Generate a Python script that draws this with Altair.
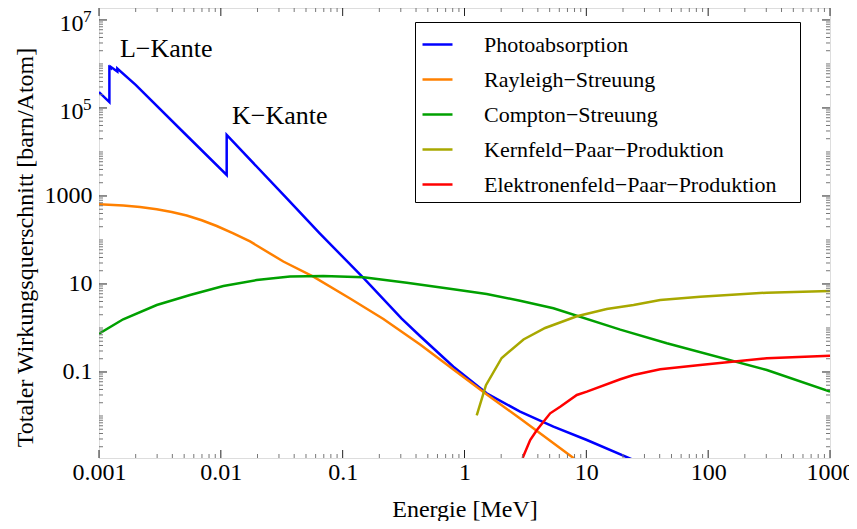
import altair as alt
import pandas as pd

FONT = "Liberation Serif"

series_names = ["Photoabsorption", "Rayleigh\u2212Streuung", "Compton\u2212Streuung",
                "Kernfeld\u2212Paar\u2212Produktion", "Elektronenfeld\u2212Paar\u2212Produktion"]
series_colors = ["#0000ff", "#ff8000", "#00a000", "#a8a800", "#ff0000"]

photo_E = [0.001, 0.001217, 0.001217, 0.001248, 0.001248, 0.001414, 0.001414, 0.002, 0.005,
           0.01117, 0.01117, 0.0348, 0.0651, 0.148, 0.305, 0.431, 0.811, 1.52, 2.86, 5.37, 10.1, 23.6]
photo_S = [2.3e5, 1.36e5, 8.5e5, 8.1e5, 8.6e5, 6.7e5, 7.9e5, 3.35e5, 2.7e4,
           3000, 2.43e4, 881, 140, 13.7, 1.64, 0.658, 0.132, 0.0327, 0.01253, 0.00571, 0.00285, 0.00104]

rayleigh_E = [0.001, 0.001583, 0.002171, 0.002976, 0.003952, 0.005248, 0.006968, 0.009255, 0.01266,
              0.01737, 0.03258, 0.05745, 0.115, 0.2159, 0.4319, 0.8108, 1.524, 2.861, 8.091]
rayleigh_S = [648, 608, 562, 499, 433, 360, 281, 208, 142,
              92.5, 32.4, 14.7, 4.68, 1.60, 0.422, 0.114, 0.0308, 0.00877, 0.00104]

compton_E = [0.001, 0.00158, 0.00298, 0.00559, 0.0105, 0.0197, 0.037, 0.0695, 0.148, 0.336,
             0.811, 1.52, 2.86, 5.37, 19.0, 45.8, 303, 1000]
compton_S = [0.74, 1.58, 3.33, 5.62, 9.0, 12.3, 14.7, 15.2, 14.2, 10.7,
             7.6, 5.93, 4.17, 2.81, 0.92, 0.449, 0.111, 0.0357]

kern_E = [1.26, 1.5, 2.02, 3.05, 4.59, 8.36, 14.7, 24.4, 40.4, 86, 303, 1000]
kern_S = [0.0103, 0.05, 0.208, 0.548, 1.0, 1.85, 2.70, 3.33, 4.33, 5.14, 6.34, 6.93]

elek_E = [3.0, 3.46, 3.93, 4.45, 5.05, 6.1, 8.36, 10.1, 19.0, 24.4, 40.4, 86, 303, 1000]
elek_S = [0.00111, 0.00285, 0.00481, 0.0074, 0.0115, 0.01626, 0.030, 0.0357, 0.0683, 0.0855,
          0.115, 0.144, 0.205, 0.234]

ann_E = [0.001486, 0.01236]
ann_S = [2.19e6, 6.58e4]
ann_text = ["L\u2212Kante", "K\u2212Kante"]

x_tick_values = [0.001, 0.01, 0.1, 1, 10, 100, 1000]
x_tick_labels = ["0.001", "0.01", "0.1", "1", "10", "100", "1000"]
y_tick_values = [1e7, 1e5, 1000, 10, 0.1]
y_tick_labels = ["10", "10", "1000", "10", "0.1"]
y_sup_values = [1e7, 1e5]
y_sup_text = ["7", "5"]

W, H = 731, 450
X_DOMAIN = [0.001, 1000]
Y_DOMAIN = [0.00111, 1.87e7]

x_minor = [k * 10.0 ** n for n in range(-3, 3) for k in range(2, 10)]
y_minor = [k * 10.0 ** n for n in range(-3, 8) for k in range(1, 10)]
y_minor = [v for v in y_minor if Y_DOMAIN[0] <= v <= Y_DOMAIN[1]
           and all(abs(v - m) > m * 1e-6 for m in y_tick_values)]

rows = []
for name, Es, Ss in zip(series_names,
                        [photo_E, rayleigh_E, compton_E, kern_E, elek_E],
                        [photo_S, rayleigh_S, compton_S, kern_S, elek_S]):
    for i, (e, s) in enumerate(zip(Es, Ss)):
        rows.append({"series": name, "E": e, "sigma": s, "idx": i})
df = pd.DataFrame(rows)


def make_expr(vals, labels):
    parts = [f"abs(datum.value - {v}) < {v * 1e-6} ? '{l}'" for v, l in zip(vals, labels)]
    return " : ".join(parts) + " : ''"


xscale = alt.Scale(type="log", domain=X_DOMAIN, nice=False)
yscale = alt.Scale(type="log", domain=Y_DOMAIN, nice=False)

x_axis = alt.Axis(values=x_tick_values, labelExpr=make_expr(x_tick_values, x_tick_labels),
                  ticks=False, tickSize=0, domain=False, grid=False, labelFlush=False,
                  labelOverlap=False, labelFont=FONT, labelFontSize=24, labelColor="black",
                  labelPadding=2, title="Energie [MeV]", titleFont=FONT, titleFontSize=24,
                  titleFontWeight="normal", titleColor="black", titlePadding=13)
y_axis = alt.Axis(values=y_tick_values, labelExpr=make_expr(y_tick_values, y_tick_labels),
                  ticks=False, tickSize=0, domain=False, grid=False, labelFlush=False,
                  labelOverlap=False, labelFont=FONT, labelFontSize=24, labelColor="black",
                  labelPadding={"condition": {"test": "datum.value > 10000", "value": 16}, "value": 7},
                  labelOffset={"condition": {"test": "datum.value > 10000", "value": 4}, "value": 0},
                  title="Totaler Wirkungsquerschnitt [barn/Atom]", titleFont=FONT,
                  titleFontSize=24, titleFontWeight="normal", titleColor="black",
                  titlePadding=7, titleY=239)

lines = alt.Chart(df).mark_line(strokeWidth=2.5, clip=True).encode(
    x=alt.X("E:Q", scale=xscale, axis=x_axis),
    y=alt.Y("sigma:Q", scale=yscale, axis=y_axis),
    color=alt.Color("series:N", scale=alt.Scale(domain=series_names, range=series_colors),
                    legend=alt.Legend(title="M", titleOrient="right", titleOpacity=0,
                                      titleFontSize=12, titlePadding=6,
                                      orient="none", legendX=316, legendY=14,
                                      symbolType="stroke", symbolSize=900, symbolStrokeWidth=2.5,
                                      labelFont=FONT, labelFontSize=22, labelColor="black",
                                      labelOffset=30, rowPadding=7, padding=6, labelLimit=500,
                                      strokeColor="black", fillColor="white")),
    order=alt.Order("idx:Q"),
)

ann = alt.Chart(pd.DataFrame({"E": ann_E, "S": ann_S, "t": ann_text})).mark_text(
    align="left", baseline="middle", font=FONT, fontSize=26, color="black").encode(
    x=alt.X("E:Q", scale=xscale, axis=x_axis),
    y=alt.Y("S:Q", scale=yscale, axis=y_axis),
    text="t:N")

sup = alt.Chart(pd.DataFrame({"v": y_sup_values, "t": y_sup_text})).mark_text(
    align="left", baseline="middle", font=FONT, fontSize=17, color="black", dy=-3).encode(
    x=alt.value(-16),
    y=alt.Y("v:Q", scale=yscale, axis=y_axis),
    text="t:N")


def hticks(vals, length, color, top):
    y0 = 0 if top else H
    y1 = length if top else H - length
    return alt.Chart(pd.DataFrame({"v": vals})).mark_rule(color=color, strokeWidth=1).encode(
        x=alt.X("v:Q", scale=xscale, axis=x_axis), y=alt.value(y0), y2=alt.value(y1))


def vticks(vals, length, color, right):
    x0 = W if right else 0
    x1 = W - length if right else length
    return alt.Chart(pd.DataFrame({"v": vals})).mark_rule(color=color, strokeWidth=1).encode(
        y=alt.Y("v:Q", scale=yscale, axis=y_axis), x=alt.value(x0), x2=alt.value(x1))


MAJ, MIN = "#222222", "#777777"
ticks = [
    hticks(x_tick_values, 8, MAJ, False), hticks(x_minor, 4, MIN, False),
    hticks(x_tick_values, 8, MAJ, True), hticks(x_minor, 4, MIN, True),
    vticks(y_tick_values, 8, MAJ, False), vticks(y_minor, 4, MIN, False),
    vticks(y_tick_values, 8, MAJ, True), vticks(y_minor, 4, MIN, True),
]

chart = alt.layer(lines, *ticks, ann, sup).properties(
    width=W, height=H,
    autosize=alt.AutoSizeParams(type="none"),
    padding={"left": 91, "top": 0, "right": 19, "bottom": 63},
).configure_view(stroke="#222222", strokeWidth=1).configure(font=FONT)

chart.save("out.html", embed_options={"renderer": "svg", "actions": False})
